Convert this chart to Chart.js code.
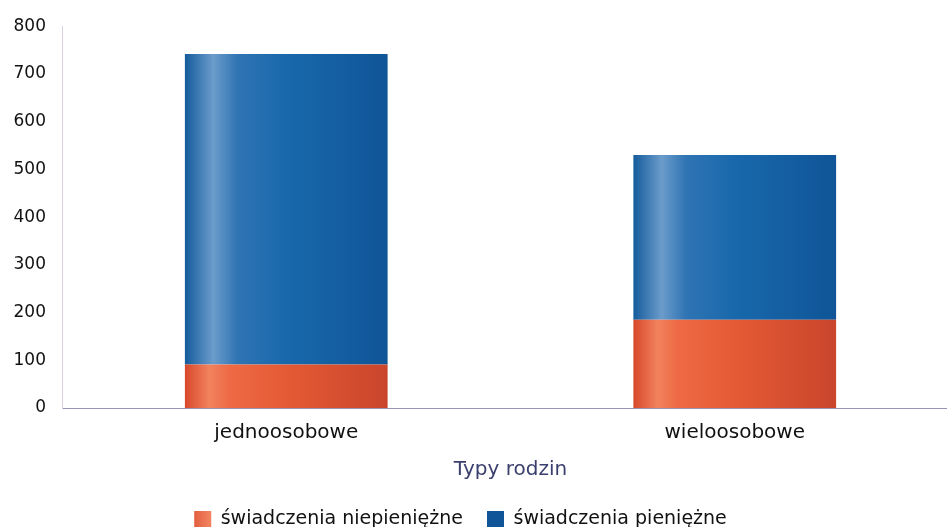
<!DOCTYPE html>
<html>
<head>
<meta charset="utf-8">
<script src="https://cdn.jsdelivr.net/npm/chart.js@4/dist/chart.umd.min.js"></script>
<style>
  html, body { margin: 0; padding: 0; background: #fff; overflow: hidden; }
  #wrap { width: 965px; height: 535px; }
</style>
</head>
<body>
<div id="wrap"><canvas id="chart"></canvas></div>
<script>
var categories = ['jednoosobowe', 'wieloosobowe'];
var seriesNames = ['świadczenia niepieniężne', 'świadczenia pieniężne'];
var nonCash = [91, 185];
var cash = [651, 345];
var yTicks = [0, 100, 200, 300, 400, 500, 600, 700, 800];

var BAR_PCT = 0.452;

// stops for the cylinder-like shading of the bars
var redStops = [[0, '#d8482c'], [0.12, '#f2825e'], [0.22, '#ee6a45'], [0.5, '#e45a34'], [1, '#c9452c']];
var blueStops = [[0, '#155b9c'], [0.14, '#6b9ccb'], [0.26, '#2f74b3'], [0.5, '#1968ac'], [1, '#0f5597']];

function barGradient(stops, solid) {
  return function(context) {
    var chart = context.chart;
    var xs = chart.scales.x;
    if (!chart.chartArea || !xs || context.dataIndex === undefined) return solid;
    var cx = xs.getPixelForValue(context.dataIndex);
    var w = (xs.width / categories.length) * BAR_PCT;
    var g = chart.ctx.createLinearGradient(cx - w / 2, 0, cx + w / 2, 0);
    stops.forEach(function(s) { g.addColorStop(s[0], s[1]); });
    return g;
  };
}

// the legend sits a bit left of the page centre in the original
var legendShift = {
  id: 'legendShift',
  afterLayout: function(chart) {
    if (chart.legend) {
      chart.legend.left -= 19;
      chart.legend.right -= 19;
      chart.legend.top += 4;
      chart.legend.bottom += 4;
    }
  }
};

var ctx = document.getElementById('chart').getContext('2d');
var myChart = new Chart(ctx, {
  type: 'bar',
  plugins: [legendShift],
  data: {
    labels: categories,
    datasets: [{
      label: seriesNames[0],
      data: nonCash,
      backgroundColor: barGradient(redStops, '#e4572f'),
      borderWidth: 0
    },
    {
      label: seriesNames[1],
      data: cash,
      backgroundColor: barGradient(blueStops, '#1a67ab'),
      borderWidth: 0
    }]
  },
  options: {
    responsive: true,
    maintainAspectRatio: false,
    animation: false,
    datasets: {
      bar: {
        categoryPercentage: 1,
        barPercentage: BAR_PCT
      }
    },
    layout: {
      padding: { top: 25, left: 0, right: 6, bottom: 0 }
    },
    scales: {
      x: {
        stacked: true,
        grid: { display: false, drawTicks: false },
        border: { display: true, color: '#9a92b8', dash: [2, 2], width: 1 },
        ticks: {
          color: '#111',
          padding: 13,
          font: { family: 'DejaVu Sans', size: 20 }
        },
        title: {
          display: true,
          text: 'Typy rodzin',
          color: '#3a3f6e',
          padding: { top: 0, bottom: 0 },
          font: { family: 'DejaVu Sans', size: 20 }
        }
      },
      y: {
        stacked: true,
        min: 0,
        max: 800,
        afterFit: function(scale) { scale.width = 62; },
        afterBuildTicks: function(scale) {
          scale.ticks = yTicks.map(function(v) { return { value: v }; });
        },
        grid: { display: false, drawTicks: false },
        border: { display: true, color: '#dccfe8', width: 1 },
        ticks: {
          color: '#111',
          padding: 16,
          font: { family: 'DejaVu Sans', size: 17 }
        }
      }
    },
    plugins: {
      legend: {
        display: true,
        position: 'bottom',
        labels: {
          boxWidth: 17,
          boxHeight: 17,
          padding: 24,
          color: '#111',
          font: { family: 'DejaVu Sans', size: 19 }
        }
      },
      tooltip: { enabled: false }
    }
  }
});
</script>
</body>
</html>
